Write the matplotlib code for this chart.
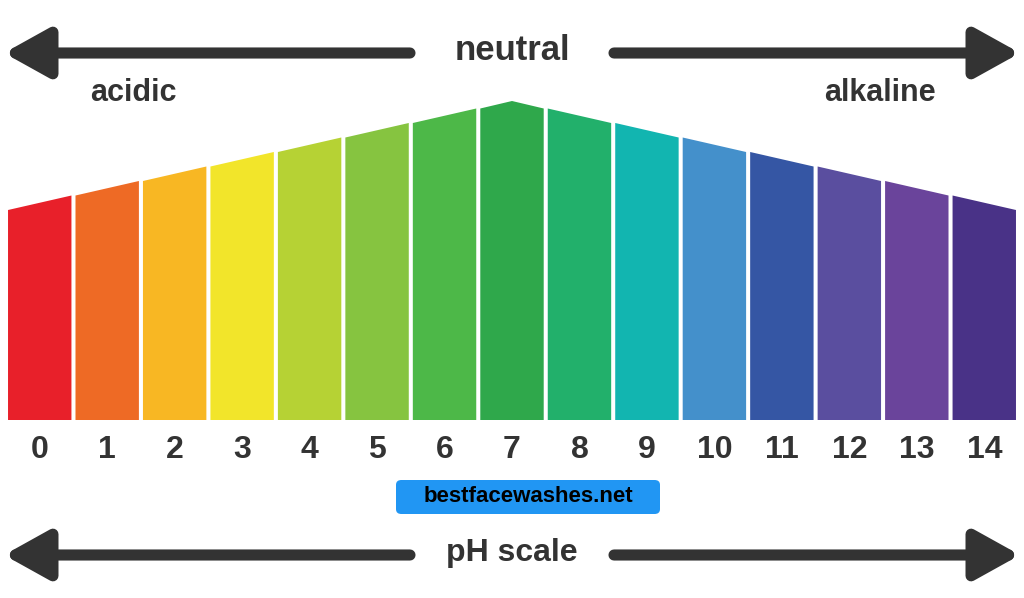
import matplotlib
matplotlib.use("Agg")
import matplotlib.pyplot as plt
from matplotlib.patches import Polygon, FancyBboxPatch

ph_labels = [str(i) for i in range(15)]
colors = ["#E8202A", "#EE6A25", "#F8B723", "#F2E52A", "#B6D234", "#86C440",
          "#4DB848", "#2FA84B", "#22B06B", "#12B5B0", "#4490CB", "#3556A4",
          "#5A4E9F", "#6A449B", "#493287"]
left_tops = [210, 224.5, 239, 253.5, 268, 282.5, 297, 311.5, 311.5, 297, 282.5, 268, 253.5, 239, 224.5]
right_tops = [224.5, 239, 253.5, 268, 282.5, 297, 311.5, 311.5, 297, 282.5, 268, 253.5, 239, 224.5, 210]
peak_top = 319
peak_bar = 7

plt.rcParams['font.family'] = ['Liberation Sans', 'DejaVu Sans']
fig = plt.figure(figsize=(10.24, 5.98), dpi=100)
ax = fig.add_axes([0, 0, 1, 1])
ppu = 1012 / 15
ax.set_xlim(-6 / ppu, 15 + 6 / ppu)
ax.set_ylim(-178, 420)
ax.axis('off')

g = 0.03
for i, c in enumerate(colors):
    x0, x1 = i + g, i + 1 - g
    if i == peak_bar:
        pts = [(x0, 0), (x0, left_tops[i]), (i + 0.5, peak_top), (x1, right_tops[i]), (x1, 0)]
    else:
        pts = [(x0, 0), (x0, left_tops[i]), (x1, right_tops[i]), (x1, 0)]
    ax.add_patch(Polygon(pts, closed=True, facecolor=c, edgecolor='none'))
    ax.text(i + 0.5, -30, ph_labels[i], ha='center', va='center', fontsize=23,
            fontweight='heavy', color='#333333')

dark = '#333333'
def arrow(xfrom, xto, y):
    ax.annotate('', xy=(xto, y), xytext=(xfrom, y),
                arrowprops=dict(arrowstyle='-|>,head_length=0.9,head_width=0.5',
                                lw=8, color=dark, mutation_scale=30, shrinkA=0, shrinkB=0))

u = lambda px: (px - 6) / ppu
y_top = 420 - 53
arrow(u(410), u(4), y_top)
arrow(u(614), u(1020), y_top)
ax.text(7.5, 420 - 50, 'neutral', ha='center', va='center', fontsize=25, fontweight='bold', color=dark)
ax.text(u(133), 420 - 93, 'acidic', ha='center', va='center', fontsize=22, fontweight='bold', color=dark)
ax.text(u(880), 420 - 93, 'alkaline', ha='center', va='center', fontsize=22, fontweight='bold', color=dark)

y_bot = 420 - 555
arrow(u(410), u(4), y_bot)
arrow(u(614), u(1020), y_bot)
ax.text(7.5, 420 - 553, 'pH scale', ha='center', va='center', fontsize=23, fontweight='bold', color=dark)

ax.add_patch(FancyBboxPatch((u(396), 420 - 514), (660 - 396) / ppu, 34,
                            boxstyle='round,pad=0,rounding_size=0.08', mutation_aspect=60,
                            facecolor='#2196F3', edgecolor='none'))
ax.text(u(528), 420 - 497, 'bestfacewashes.net', ha='center', va='center', fontsize=16,
        fontweight='bold', color='black')

fig.savefig('out.png', dpi=100)
